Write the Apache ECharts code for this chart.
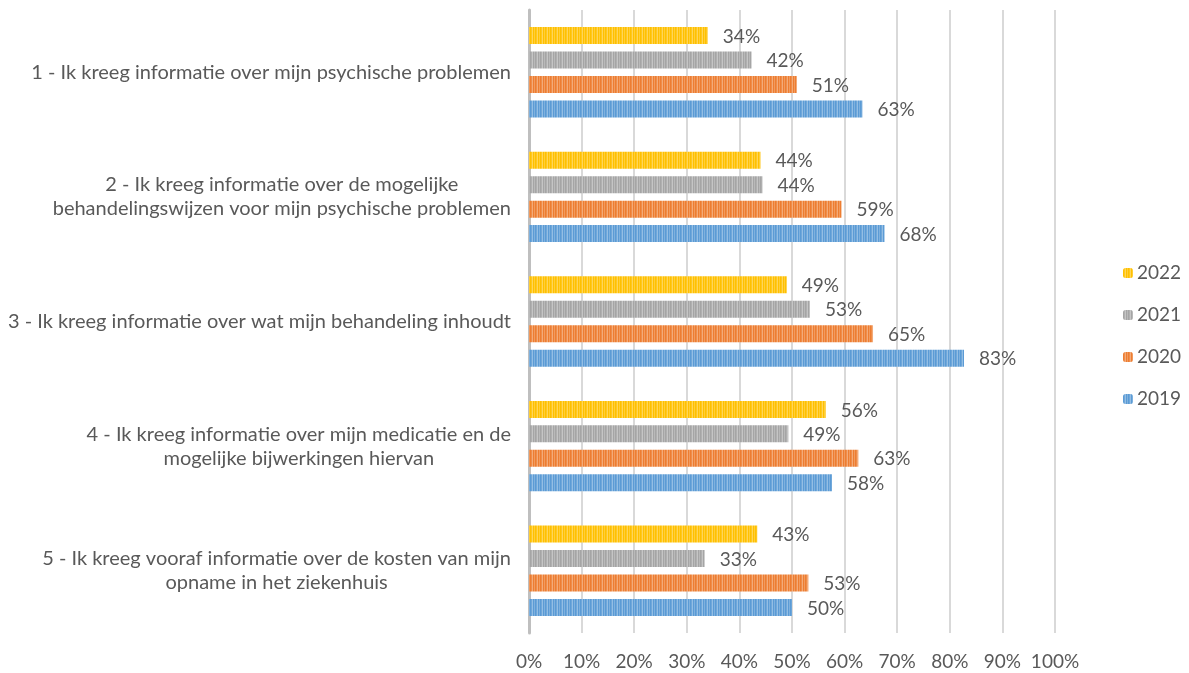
<!DOCTYPE html>
<html>
<head>
<meta charset="utf-8">
<script src="https://cdn.jsdelivr.net/npm/echarts@6/dist/echarts.min.js"></script>
<style>
html,body{margin:0;padding:0;background:#fff;}
#chart{width:1189px;height:673px;}
</style>
</head>
<body>
<div id="chart"></div>
<script>
const categories = [
  "1 - Ik kreeg informatie over mijn psychische problemen",
  "2 - Ik kreeg informatie over de mogelijke\nbehandelingswijzen voor mijn psychische problemen",
  "3 - Ik kreeg informatie over wat mijn behandeling inhoudt",
  "4 - Ik kreeg informatie over mijn medicatie en de\nmogelijke bijwerkingen hiervan",
  "5 - Ik kreeg vooraf informatie over de kosten van mijn\nopname in het ziekenhuis"
];
const years = ["2022", "2021", "2020", "2019"];
const values2022 = [34, 44, 49, 56.4, 43.4];
const values2021 = [42.3, 44.4, 53.4, 49.3, 33.4];
const values2020 = [50.9, 59.4, 65.4, 62.6, 53.1];
const values2019 = [63.4, 67.6, 82.7, 57.6, 50.0];
const xTicks = [0, 10, 20, 30, 40, 50, 60, 70, 80, 90, 100];

const seriesValues = [values2022, values2021, values2020, values2019];
const baseColors = ["#FFC000", "#A5A5A5", "#ED7D31", "#5B9BD5"];

function mix(hex, t) {
  const r = parseInt(hex.slice(1,3),16), g = parseInt(hex.slice(3,5),16), b = parseInt(hex.slice(5,7),16);
  const f = v => Math.round(v + (255 - v) * t);
  return 'rgb(' + f(r) + ',' + f(g) + ',' + f(b) + ')';
}
function stripe(hex) {
  const c = document.createElement('canvas');
  c.width = 5; c.height = 4;
  const ctx = c.getContext('2d');
  const cols = [hex, mix(hex, 0.12), mix(hex, 0.35), hex, mix(hex, 0.22)];
  cols.forEach((col, i) => { ctx.fillStyle = col; ctx.fillRect(i, 0, 1, 4); });
  return { image: c, repeat: 'repeat' };
}

const FONT = 'Lato';
const TXT = '#595959';

const chart = echarts.init(document.getElementById('chart'), null, { renderer: 'canvas' });
chart.setOption({
  animation: false,
  backgroundColor: '#fff',
  textStyle: { fontFamily: FONT },
  grid: { left: 529, right: 134, top: 10, bottom: 40, containLabel: false },
  legend: {
    orient: 'vertical',
    left: 1118,
    top: 258,
    itemWidth: 10,
    itemHeight: 10,
    itemGap: 22,
    data: years,
    textStyle: { color: TXT, fontSize: 19, lineHeight: 20, fontFamily: FONT, padding: [0, 0, 0, -1] }
  },
  xAxis: {
    type: 'value',
    min: xTicks[0],
    max: xTicks[xTicks.length - 1],
    interval: 10,
    axisLine: { show: false },
    axisTick: { show: false },
    splitLine: { lineStyle: { color: '#D9D9D9', width: 2 } },
    axisLabel: { color: TXT, fontSize: 19, fontFamily: FONT, margin: 19, formatter: v => v + '%' }
  },
  yAxis: {
    type: 'category',
    inverse: true,
    data: categories,
    axisLine: { show: true, lineStyle: { color: '#BFBFBF', width: 3 } },
    axisTick: { show: false },
    axisLabel: {
      color: TXT, fontSize: 20, fontFamily: FONT, margin: 18, align: 'right', lineHeight: 24,
      formatter: v => v.split('\n').map(s => '{c|' + s + '}').join('\n'),
      rich: { c: { align: 'center', color: TXT, fontSize: 20, fontFamily: FONT, lineHeight: 24 } }
    }
  },
  series: years.map((y, i) => ({
    name: y,
    type: 'bar',
    data: seriesValues[i],
    barWidth: 17,
    barGap: '44%',
    barCategoryGap: '27%',
    itemStyle: { color: stripe(baseColors[i]) },
    label: {
      show: true, position: 'right', distance: 15,
      color: TXT, fontSize: 19, fontFamily: FONT,
      offset: [0, 1],
      formatter: p => Math.round(p.value) + '%'
    }
  }))
});
</script>
</body>
</html>
